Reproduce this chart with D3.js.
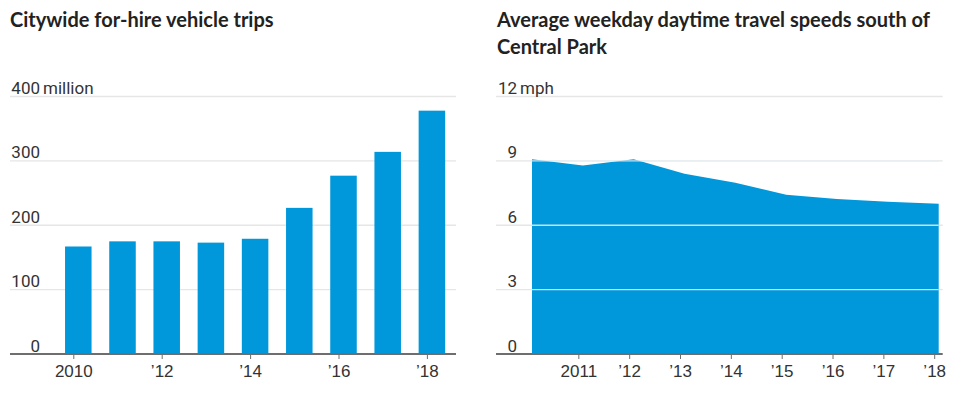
<!DOCTYPE html>
<html lang="en">
<head>
	<meta charset="UTF-8">
	<title>For-hire vehicle trips and travel speeds</title>
	<style>
		body { margin: 0; background: #fff; }
		text { font-family: "Liberation Sans Narrow", "Roboto", sans-serif; fill: #333; }
		.title { font-family: "Lato", "Noto Sans", sans-serif; font-weight: 700; font-size: 20px; fill: #222; }
	</style>
</head>
<body>
	<svg id="chart" width="957" height="395"></svg>
	<script src="https://d3js.org/d3.v7.min.js"></script>
	<script>

	// left: trips per year (millions)
	var tripYears = [2010, 2011, 2012, 2013, 2014, 2015, 2016, 2017, 2018];
	var tripValues = [167, 175, 175, 173, 179, 227, 277, 314, 378];
	var tripYTicks = [0, 100, 200, 300, 400];
	var tripXTicks = [2010, 2012, 2014, 2016, 2018];

	// right: avg weekday daytime speed (mph)
	var speedYears = [2010, 2011, 2012, 2013, 2014, 2015, 2016, 2017, 2018];
	var speedValues = [9.08, 8.78, 9.08, 8.4, 7.98, 7.42, 7.22, 7.1, 7.0];
	var speedYTicks = [0, 3, 6, 9, 12];
	var speedXTicks = [2011, 2012, 2013, 2014, 2015, 2016, 2017, 2018];

	var blue = '#0098da',
		gridColor = '#e6e6e6',
		axisColor = '#6e6e6e',
		tickShift = -4.5,
		fontSize = 17;

	var svg = d3.select('#chart');

	function yearLabel(first) {
		return function (y) {
			return y === first ? String(y) : '\u2019' + String(y).slice(2);
		};
	}

	function styleAxis(g) {
		g.select('.domain').remove();
		g.selectAll('.tick line').attr('stroke', axisColor);
		g.selectAll('.tick text').attr('fill', '#333').style('font-size', fontSize + 'px')
			.style('font-family', '"Liberation Sans Narrow", sans-serif');
	}

	// ---------- left chart ----------
	var L = svg.append('g');
	var lx = d3.scaleBand().domain(tripYears).range([56.2, 454]).paddingInner(0.4).paddingOuter(0.2);
	var ly = d3.scaleLinear().domain([0, 400]).range([354, 96.5]);

	L.append('text').attr('class', 'title').attr('x', 10).attr('y', 27).text('Citywide for-hire vehicle trips');

	L.selectAll('.grid').data(tripYTicks.slice(1)).enter().append('line')
		.attr('x1', 10).attr('x2', 456)
		.attr('y1', function (d) { return ly(d); }).attr('y2', function (d) { return ly(d); })
		.attr('stroke', gridColor).attr('stroke-width', 1.4);

	L.selectAll('.bar').data(tripYears).enter().append('rect')
		.attr('x', function (d) { return lx(d); })
		.attr('width', lx.bandwidth())
		.attr('y', function (d, i) { return ly(tripValues[i]); })
		.attr('height', function (d, i) { return ly(0) - ly(tripValues[i]); })
		.attr('fill', blue);

	L.selectAll('.ylab').data(tripYTicks).enter().append('text')
		.attr('x', 40).attr('y', function (d) { return ly(d) - 2.5; })
		.attr('text-anchor', 'end').style('font-size', fontSize + 'px')
		.text(function (d) { return d; });
	L.append('text').attr('x', 43).attr('y', ly(400) - 2.5).style('font-size', fontSize + 'px').text('million');

	L.append('g').attr('transform', 'translate(' + tickShift + ',354)')
		.call(d3.axisBottom(lx).tickValues(tripXTicks).tickSize(5).tickPadding(6).tickFormat(yearLabel(2010)))
		.call(styleAxis);
	L.append('line').attr('x1', 10).attr('x2', 456).attr('y1', 354).attr('y2', 354)
		.attr('stroke', axisColor).attr('stroke-width', 2);

	// ---------- right chart ----------
	var R = svg.append('g');
	var rx = d3.scaleLinear().domain([2010, 2018]).range([532, 938.7]);
	var ry = d3.scaleLinear().domain([0, 12]).range([354, 96.5]);

	R.append('text').attr('class', 'title').attr('x', 497).attr('y', 27).text('Average weekday daytime travel speeds south of');
	R.append('text').attr('class', 'title').attr('x', 497).attr('y', 53.5).text('Central Park');

	R.selectAll('.grid').data(speedYTicks.slice(1)).enter().append('line')
		.attr('x1', 496).attr('x2', 942.7)
		.attr('y1', function (d) { return ry(d); }).attr('y2', function (d) { return ry(d); })
		.attr('stroke', gridColor).attr('stroke-width', 1.4);

	var area = d3.area()
		.x(function (d, i) { return rx(speedYears[i]); })
		.y0(ry(0))
		.y1(function (d) { return ry(d); });

	R.append('path').datum(speedValues).attr('d', area).attr('fill', blue);

	// grid lines show through the area
	R.selectAll('.gridTop').data(speedYTicks.slice(1, 4)).enter().append('line')
		.attr('x1', rx(2010)).attr('x2', rx(2018))
		.attr('y1', function (d) { return ry(d); }).attr('y2', function (d) { return ry(d); })
		.attr('stroke', '#e8eef2').attr('stroke-opacity', 0.85).attr('stroke-width', 1.4);

	R.selectAll('.ylab').data(speedYTicks).enter().append('text')
		.attr('x', 517).attr('y', function (d) { return ry(d) - 2.5; })
		.attr('text-anchor', 'end').style('font-size', fontSize + 'px')
		.text(function (d) { return d; });
	R.append('text').attr('x', 520).attr('y', ry(12) - 2.5).style('font-size', fontSize + 'px').text('mph');

	R.append('g').attr('transform', 'translate(' + tickShift + ',354)')
		.call(d3.axisBottom(rx).tickValues(speedXTicks).tickSize(5).tickPadding(6).tickFormat(yearLabel(2011)))
		.call(styleAxis);
	R.append('line').attr('x1', 496).attr('x2', 942.7).attr('y1', 354).attr('y2', 354)
		.attr('stroke', axisColor).attr('stroke-width', 2);

	</script>
</body>
</html>
